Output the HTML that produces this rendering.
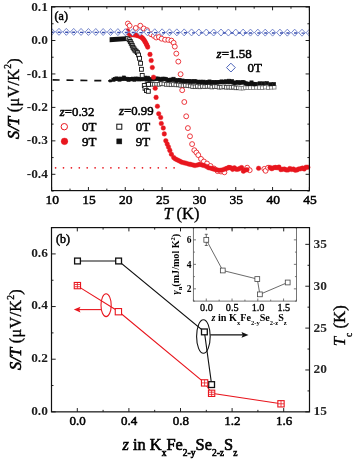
<!DOCTYPE html>
<html><head><meta charset="utf-8"><style>
html,body{margin:0;padding:0;background:#fff;width:355px;height:460px;overflow:hidden}
svg{display:block;font-family:"Liberation Serif",serif;will-change:transform;filter:blur(0.35px)}
</style></head><body>
<svg width="355" height="460" viewBox="0 0 355 460" font-family="Liberation Serif, serif"><path d="M51.6 190.6L51.6 187M51.6 6.7L51.6 10.3M70.01 190.6L70.01 188.6M70.01 6.7L70.01 8.7M88.43 190.6L88.43 187M88.43 6.7L88.43 10.3M106.84 190.6L106.84 188.6M106.84 6.7L106.84 8.7M125.26 190.6L125.26 187M125.26 6.7L125.26 10.3M143.67 190.6L143.67 188.6M143.67 6.7L143.67 8.7M162.09 190.6L162.09 187M162.09 6.7L162.09 10.3M180.5 190.6L180.5 188.6M180.5 6.7L180.5 8.7M198.91 190.6L198.91 187M198.91 6.7L198.91 10.3M217.33 190.6L217.33 188.6M217.33 6.7L217.33 8.7M235.74 190.6L235.74 187M235.74 6.7L235.74 10.3M254.16 190.6L254.16 188.6M254.16 6.7L254.16 8.7M272.57 190.6L272.57 187M272.57 6.7L272.57 10.3M290.99 190.6L290.99 188.6M290.99 6.7L290.99 8.7M309.4 190.6L309.4 187M309.4 6.7L309.4 10.3M51.6 7.05L55.4 7.05M309.4 7.05L305.6 7.05M51.6 23.78L53.6 23.78M309.4 23.78L307.4 23.78M51.6 40.5L55.4 40.5M309.4 40.5L305.6 40.5M51.6 57.23L53.6 57.23M309.4 57.23L307.4 57.23M51.6 73.95L55.4 73.95M309.4 73.95L305.6 73.95M51.6 90.67L53.6 90.67M309.4 90.67L307.4 90.67M51.6 107.4L55.4 107.4M309.4 107.4L305.6 107.4M51.6 124.12L53.6 124.12M309.4 124.12L307.4 124.12M51.6 140.85L55.4 140.85M309.4 140.85L305.6 140.85M51.6 157.57L53.6 157.57M309.4 157.57L307.4 157.57M51.6 174.3L55.4 174.3M309.4 174.3L305.6 174.3M51.6 191.03L53.6 191.03M309.4 191.03L307.4 191.03" stroke="#222" stroke-width="1" fill="none"/>
<text x="52.2" y="203.6" font-size="13.5" text-anchor="middle" font-weight="normal" font-style="normal" stroke="#000" stroke-width="0.5">10</text>
<text x="89.03" y="203.6" font-size="13.5" text-anchor="middle" font-weight="normal" font-style="normal" stroke="#000" stroke-width="0.5">15</text>
<text x="125.86" y="203.6" font-size="13.5" text-anchor="middle" font-weight="normal" font-style="normal" stroke="#000" stroke-width="0.5">20</text>
<text x="162.69" y="203.6" font-size="13.5" text-anchor="middle" font-weight="normal" font-style="normal" stroke="#000" stroke-width="0.5">25</text>
<text x="199.51" y="203.6" font-size="13.5" text-anchor="middle" font-weight="normal" font-style="normal" stroke="#000" stroke-width="0.5">30</text>
<text x="236.34" y="203.6" font-size="13.5" text-anchor="middle" font-weight="normal" font-style="normal" stroke="#000" stroke-width="0.5">35</text>
<text x="273.17" y="203.6" font-size="13.5" text-anchor="middle" font-weight="normal" font-style="normal" stroke="#000" stroke-width="0.5">40</text>
<text x="310" y="203.6" font-size="13.5" text-anchor="middle" font-weight="normal" font-style="normal" stroke="#000" stroke-width="0.5">45</text>
<text x="47.9" y="10.65" font-size="13.4" text-anchor="end" font-weight="bold" font-style="normal" fill="#1c1c1c">0.1</text>
<text x="47.9" y="44.1" font-size="13.4" text-anchor="end" font-weight="bold" font-style="normal" fill="#1c1c1c">0.0</text>
<text x="47.9" y="77.55" font-size="13.4" text-anchor="end" font-weight="bold" font-style="normal" fill="#1c1c1c">-0.1</text>
<text x="47.9" y="111" font-size="13.4" text-anchor="end" font-weight="bold" font-style="normal" fill="#1c1c1c">-0.2</text>
<text x="47.9" y="144.45" font-size="13.4" text-anchor="end" font-weight="bold" font-style="normal" fill="#1c1c1c">-0.3</text>
<text x="47.9" y="177.9" font-size="13.4" text-anchor="end" font-weight="bold" font-style="normal" fill="#1c1c1c">-0.4</text>
<circle cx="55.6" cy="167.8" r="0.85" fill="#e8161e"/>
<circle cx="63.5" cy="167.8" r="0.85" fill="#e8161e"/>
<circle cx="71.4" cy="167.8" r="0.85" fill="#e8161e"/>
<circle cx="79.3" cy="167.8" r="0.85" fill="#e8161e"/>
<circle cx="87.2" cy="167.8" r="0.85" fill="#e8161e"/>
<circle cx="95.1" cy="167.8" r="0.85" fill="#e8161e"/>
<circle cx="103" cy="167.8" r="0.85" fill="#e8161e"/>
<circle cx="110.9" cy="167.8" r="0.85" fill="#e8161e"/>
<circle cx="118.8" cy="167.8" r="0.85" fill="#e8161e"/>
<circle cx="126.7" cy="167.8" r="0.85" fill="#e8161e"/>
<circle cx="134.6" cy="167.8" r="0.85" fill="#e8161e"/>
<circle cx="142.5" cy="167.8" r="0.85" fill="#e8161e"/>
<circle cx="150.4" cy="167.8" r="0.85" fill="#e8161e"/>
<circle cx="158.3" cy="167.8" r="0.85" fill="#e8161e"/>
<circle cx="166.2" cy="167.8" r="0.85" fill="#e8161e"/>
<circle cx="174.1" cy="167.8" r="0.85" fill="#e8161e"/>
<line x1="52.6" y1="79.9" x2="112" y2="80.9" stroke="#111" stroke-width="1.7" stroke-dasharray="7 6.9"/>
<path d="M109.6 37.2L126.6 36.3L126.8 41L109.6 42.3Z" fill="#111"/>
<rect x="145.2" y="82.3" width="3.6" height="3.6" fill="#fff" stroke="#3a3a3a" stroke-width="0.8"/>
<rect x="147.6" y="82.39" width="3.6" height="3.6" fill="#fff" stroke="#3a3a3a" stroke-width="0.8"/>
<rect x="150" y="82.44" width="3.6" height="3.6" fill="#fff" stroke="#3a3a3a" stroke-width="0.8"/>
<rect x="152.4" y="82.55" width="3.6" height="3.6" fill="#fff" stroke="#3a3a3a" stroke-width="0.8"/>
<rect x="154.8" y="82.39" width="3.6" height="3.6" fill="#fff" stroke="#3a3a3a" stroke-width="0.8"/>
<rect x="157.2" y="82.54" width="3.6" height="3.6" fill="#fff" stroke="#3a3a3a" stroke-width="0.8"/>
<rect x="159.6" y="81.82" width="3.6" height="3.6" fill="#fff" stroke="#3a3a3a" stroke-width="0.8"/>
<rect x="162" y="82.17" width="3.6" height="3.6" fill="#fff" stroke="#3a3a3a" stroke-width="0.8"/>
<rect x="164.4" y="82.66" width="3.6" height="3.6" fill="#fff" stroke="#3a3a3a" stroke-width="0.8"/>
<rect x="166.8" y="82.63" width="3.6" height="3.6" fill="#fff" stroke="#3a3a3a" stroke-width="0.8"/>
<rect x="169.2" y="83.04" width="3.6" height="3.6" fill="#fff" stroke="#3a3a3a" stroke-width="0.8"/>
<rect x="171.6" y="82.62" width="3.6" height="3.6" fill="#fff" stroke="#3a3a3a" stroke-width="0.8"/>
<rect x="174" y="83.11" width="3.6" height="3.6" fill="#fff" stroke="#3a3a3a" stroke-width="0.8"/>
<rect x="176.4" y="83.14" width="3.6" height="3.6" fill="#fff" stroke="#3a3a3a" stroke-width="0.8"/>
<rect x="178.8" y="83.59" width="3.6" height="3.6" fill="#fff" stroke="#3a3a3a" stroke-width="0.8"/>
<rect x="181.2" y="83.82" width="3.6" height="3.6" fill="#fff" stroke="#3a3a3a" stroke-width="0.8"/>
<rect x="183.6" y="83.58" width="3.6" height="3.6" fill="#fff" stroke="#3a3a3a" stroke-width="0.8"/>
<rect x="186" y="83.95" width="3.6" height="3.6" fill="#fff" stroke="#3a3a3a" stroke-width="0.8"/>
<rect x="188.4" y="84.21" width="3.6" height="3.6" fill="#fff" stroke="#3a3a3a" stroke-width="0.8"/>
<rect x="190.8" y="84.93" width="3.6" height="3.6" fill="#fff" stroke="#3a3a3a" stroke-width="0.8"/>
<rect x="193.2" y="85.01" width="3.6" height="3.6" fill="#fff" stroke="#3a3a3a" stroke-width="0.8"/>
<rect x="195.6" y="84.55" width="3.6" height="3.6" fill="#fff" stroke="#3a3a3a" stroke-width="0.8"/>
<rect x="198" y="85.09" width="3.6" height="3.6" fill="#fff" stroke="#3a3a3a" stroke-width="0.8"/>
<rect x="200.4" y="84.58" width="3.6" height="3.6" fill="#fff" stroke="#3a3a3a" stroke-width="0.8"/>
<rect x="202.8" y="84.99" width="3.6" height="3.6" fill="#fff" stroke="#3a3a3a" stroke-width="0.8"/>
<rect x="205.2" y="84.62" width="3.6" height="3.6" fill="#fff" stroke="#3a3a3a" stroke-width="0.8"/>
<rect x="207.6" y="84.55" width="3.6" height="3.6" fill="#fff" stroke="#3a3a3a" stroke-width="0.8"/>
<rect x="210" y="85.27" width="3.6" height="3.6" fill="#fff" stroke="#3a3a3a" stroke-width="0.8"/>
<rect x="212.4" y="84.76" width="3.6" height="3.6" fill="#fff" stroke="#3a3a3a" stroke-width="0.8"/>
<rect x="214.8" y="84.79" width="3.6" height="3.6" fill="#fff" stroke="#3a3a3a" stroke-width="0.8"/>
<rect x="217.2" y="85.43" width="3.6" height="3.6" fill="#fff" stroke="#3a3a3a" stroke-width="0.8"/>
<rect x="219.6" y="85.36" width="3.6" height="3.6" fill="#fff" stroke="#3a3a3a" stroke-width="0.8"/>
<rect x="222" y="84.92" width="3.6" height="3.6" fill="#fff" stroke="#3a3a3a" stroke-width="0.8"/>
<rect x="224.4" y="85.54" width="3.6" height="3.6" fill="#fff" stroke="#3a3a3a" stroke-width="0.8"/>
<rect x="226.8" y="85.35" width="3.6" height="3.6" fill="#fff" stroke="#3a3a3a" stroke-width="0.8"/>
<rect x="229.2" y="85.6" width="3.6" height="3.6" fill="#fff" stroke="#3a3a3a" stroke-width="0.8"/>
<rect x="231.6" y="85.37" width="3.6" height="3.6" fill="#fff" stroke="#3a3a3a" stroke-width="0.8"/>
<rect x="234" y="86.1" width="3.6" height="3.6" fill="#fff" stroke="#3a3a3a" stroke-width="0.8"/>
<rect x="236.4" y="86.04" width="3.6" height="3.6" fill="#fff" stroke="#3a3a3a" stroke-width="0.8"/>
<rect x="238.8" y="86.38" width="3.6" height="3.6" fill="#fff" stroke="#777" stroke-width="0.8"/>
<rect x="241.2" y="86.36" width="3.6" height="3.6" fill="#fff" stroke="#777" stroke-width="0.8"/>
<rect x="243.6" y="85.92" width="3.6" height="3.6" fill="#fff" stroke="#777" stroke-width="0.8"/>
<rect x="246" y="86" width="3.6" height="3.6" fill="#fff" stroke="#777" stroke-width="0.8"/>
<rect x="248.4" y="85.87" width="3.6" height="3.6" fill="#fff" stroke="#777" stroke-width="0.8"/>
<rect x="251.4" y="85.79" width="3.6" height="3.6" fill="#fff" stroke="#777" stroke-width="0.8"/>
<rect x="254.4" y="85.65" width="3.6" height="3.6" fill="#fff" stroke="#777" stroke-width="0.8"/>
<rect x="257.4" y="85.78" width="3.6" height="3.6" fill="#fff" stroke="#777" stroke-width="0.8"/>
<rect x="260.4" y="85.95" width="3.6" height="3.6" fill="#fff" stroke="#777" stroke-width="0.8"/>
<rect x="263.4" y="85.4" width="3.6" height="3.6" fill="#fff" stroke="#777" stroke-width="0.8"/>
<rect x="266.4" y="85.87" width="3.6" height="3.6" fill="#fff" stroke="#777" stroke-width="0.8"/>
<rect x="269.4" y="85.53" width="3.6" height="3.6" fill="#fff" stroke="#777" stroke-width="0.8"/>
<rect x="272.4" y="85.44" width="3.6" height="3.6" fill="#fff" stroke="#777" stroke-width="0.8"/>
<rect x="109.4" y="79.8" width="2.2" height="2.2" fill="#111" stroke="#111" stroke-width="0.6"/>
<rect x="111.85" y="78.06" width="3.3" height="3.3" fill="#111" stroke="#111" stroke-width="0.6"/>
<rect x="113.35" y="77.36" width="3.3" height="3.3" fill="#111" stroke="#111" stroke-width="0.6"/>
<rect x="114.85" y="76.87" width="3.3" height="3.3" fill="#111" stroke="#111" stroke-width="0.6"/>
<rect x="116.35" y="77.22" width="3.3" height="3.3" fill="#111" stroke="#111" stroke-width="0.6"/>
<rect x="117.85" y="77.92" width="3.3" height="3.3" fill="#111" stroke="#111" stroke-width="0.6"/>
<rect x="119.35" y="76.97" width="3.3" height="3.3" fill="#111" stroke="#111" stroke-width="0.6"/>
<rect x="120.85" y="77.43" width="3.3" height="3.3" fill="#111" stroke="#111" stroke-width="0.6"/>
<rect x="122.35" y="75.96" width="3.3" height="3.3" fill="#111" stroke="#111" stroke-width="0.6"/>
<rect x="123.85" y="77.19" width="3.3" height="3.3" fill="#111" stroke="#111" stroke-width="0.6"/>
<rect x="125.35" y="77.21" width="3.3" height="3.3" fill="#111" stroke="#111" stroke-width="0.6"/>
<rect x="126.85" y="78.16" width="3.3" height="3.3" fill="#111" stroke="#111" stroke-width="0.6"/>
<rect x="128.35" y="77.4" width="3.3" height="3.3" fill="#111" stroke="#111" stroke-width="0.6"/>
<rect x="129.85" y="77.63" width="3.3" height="3.3" fill="#111" stroke="#111" stroke-width="0.6"/>
<rect x="131.35" y="77.09" width="3.3" height="3.3" fill="#111" stroke="#111" stroke-width="0.6"/>
<rect x="132.85" y="77.99" width="3.3" height="3.3" fill="#111" stroke="#111" stroke-width="0.6"/>
<rect x="134.35" y="77" width="3.3" height="3.3" fill="#111" stroke="#111" stroke-width="0.6"/>
<rect x="135.85" y="77.07" width="3.3" height="3.3" fill="#111" stroke="#111" stroke-width="0.6"/>
<rect x="137.35" y="77.74" width="3.3" height="3.3" fill="#111" stroke="#111" stroke-width="0.6"/>
<rect x="138.85" y="77.39" width="3.3" height="3.3" fill="#111" stroke="#111" stroke-width="0.6"/>
<rect x="140.35" y="77.66" width="3.3" height="3.3" fill="#111" stroke="#111" stroke-width="0.6"/>
<rect x="141.85" y="77.36" width="3.3" height="3.3" fill="#111" stroke="#111" stroke-width="0.6"/>
<rect x="143.35" y="76.05" width="3.3" height="3.3" fill="#111" stroke="#111" stroke-width="0.6"/>
<rect x="144.85" y="77.85" width="3.3" height="3.3" fill="#111" stroke="#111" stroke-width="0.6"/>
<rect x="146.35" y="76.16" width="3.3" height="3.3" fill="#111" stroke="#111" stroke-width="0.6"/>
<rect x="147.85" y="78.23" width="3.3" height="3.3" fill="#111" stroke="#111" stroke-width="0.6"/>
<rect x="149.35" y="77.48" width="3.3" height="3.3" fill="#111" stroke="#111" stroke-width="0.6"/>
<rect x="150.85" y="77.72" width="3.3" height="3.3" fill="#111" stroke="#111" stroke-width="0.6"/>
<rect x="152.35" y="77.54" width="3.3" height="3.3" fill="#111" stroke="#111" stroke-width="0.6"/>
<rect x="153.85" y="77.02" width="3.3" height="3.3" fill="#111" stroke="#111" stroke-width="0.6"/>
<rect x="155.35" y="76.99" width="3.3" height="3.3" fill="#111" stroke="#111" stroke-width="0.6"/>
<rect x="156.85" y="77.04" width="3.3" height="3.3" fill="#111" stroke="#111" stroke-width="0.6"/>
<rect x="158.35" y="77.9" width="3.3" height="3.3" fill="#111" stroke="#111" stroke-width="0.6"/>
<rect x="159.85" y="77.77" width="3.3" height="3.3" fill="#111" stroke="#111" stroke-width="0.6"/>
<rect x="161.35" y="77.09" width="3.3" height="3.3" fill="#111" stroke="#111" stroke-width="0.6"/>
<rect x="162.85" y="77.14" width="3.3" height="3.3" fill="#111" stroke="#111" stroke-width="0.6"/>
<rect x="164.35" y="77.42" width="3.3" height="3.3" fill="#111" stroke="#111" stroke-width="0.6"/>
<rect x="165.85" y="78.47" width="3.3" height="3.3" fill="#111" stroke="#111" stroke-width="0.6"/>
<rect x="167.35" y="78.57" width="3.3" height="3.3" fill="#111" stroke="#111" stroke-width="0.6"/>
<rect x="168.85" y="78.06" width="3.3" height="3.3" fill="#111" stroke="#111" stroke-width="0.6"/>
<rect x="170.35" y="78.18" width="3.3" height="3.3" fill="#111" stroke="#111" stroke-width="0.6"/>
<rect x="171.85" y="77.21" width="3.3" height="3.3" fill="#111" stroke="#111" stroke-width="0.6"/>
<rect x="173.35" y="78.31" width="3.3" height="3.3" fill="#111" stroke="#111" stroke-width="0.6"/>
<rect x="174.85" y="79.19" width="3.3" height="3.3" fill="#111" stroke="#111" stroke-width="0.6"/>
<rect x="176.35" y="78.73" width="3.3" height="3.3" fill="#111" stroke="#111" stroke-width="0.6"/>
<rect x="177.85" y="78.32" width="3.3" height="3.3" fill="#111" stroke="#111" stroke-width="0.6"/>
<rect x="179.35" y="79.35" width="3.3" height="3.3" fill="#111" stroke="#111" stroke-width="0.6"/>
<rect x="180.85" y="78.94" width="3.3" height="3.3" fill="#111" stroke="#111" stroke-width="0.6"/>
<rect x="182.35" y="79.6" width="3.3" height="3.3" fill="#111" stroke="#111" stroke-width="0.6"/>
<rect x="183.85" y="79.59" width="3.3" height="3.3" fill="#111" stroke="#111" stroke-width="0.6"/>
<rect x="185.35" y="79.33" width="3.3" height="3.3" fill="#111" stroke="#111" stroke-width="0.6"/>
<rect x="186.85" y="79.35" width="3.3" height="3.3" fill="#111" stroke="#111" stroke-width="0.6"/>
<rect x="188.35" y="80.12" width="3.3" height="3.3" fill="#111" stroke="#111" stroke-width="0.6"/>
<rect x="189.85" y="79.63" width="3.3" height="3.3" fill="#111" stroke="#111" stroke-width="0.6"/>
<rect x="191.35" y="80.22" width="3.3" height="3.3" fill="#111" stroke="#111" stroke-width="0.6"/>
<rect x="192.85" y="79.52" width="3.3" height="3.3" fill="#111" stroke="#111" stroke-width="0.6"/>
<rect x="194.35" y="79.89" width="3.3" height="3.3" fill="#111" stroke="#111" stroke-width="0.6"/>
<rect x="195.85" y="80.18" width="3.3" height="3.3" fill="#111" stroke="#111" stroke-width="0.6"/>
<rect x="197.35" y="80.43" width="3.3" height="3.3" fill="#111" stroke="#111" stroke-width="0.6"/>
<rect x="198.85" y="80.06" width="3.3" height="3.3" fill="#111" stroke="#111" stroke-width="0.6"/>
<rect x="200.35" y="80.58" width="3.3" height="3.3" fill="#111" stroke="#111" stroke-width="0.6"/>
<rect x="201.85" y="80.09" width="3.3" height="3.3" fill="#111" stroke="#111" stroke-width="0.6"/>
<rect x="203.35" y="80.78" width="3.3" height="3.3" fill="#111" stroke="#111" stroke-width="0.6"/>
<rect x="204.85" y="80.93" width="3.3" height="3.3" fill="#111" stroke="#111" stroke-width="0.6"/>
<rect x="206.35" y="80.35" width="3.3" height="3.3" fill="#111" stroke="#111" stroke-width="0.6"/>
<rect x="207.85" y="79.91" width="3.3" height="3.3" fill="#111" stroke="#111" stroke-width="0.6"/>
<rect x="209.35" y="80.93" width="3.3" height="3.3" fill="#111" stroke="#111" stroke-width="0.6"/>
<rect x="210.85" y="80.62" width="3.3" height="3.3" fill="#111" stroke="#111" stroke-width="0.6"/>
<rect x="212.35" y="80.69" width="3.3" height="3.3" fill="#111" stroke="#111" stroke-width="0.6"/>
<rect x="213.85" y="80.77" width="3.3" height="3.3" fill="#111" stroke="#111" stroke-width="0.6"/>
<rect x="215.35" y="80.64" width="3.3" height="3.3" fill="#111" stroke="#111" stroke-width="0.6"/>
<rect x="216.85" y="80.6" width="3.3" height="3.3" fill="#111" stroke="#111" stroke-width="0.6"/>
<rect x="218.35" y="80.63" width="3.3" height="3.3" fill="#111" stroke="#111" stroke-width="0.6"/>
<rect x="219.85" y="79.85" width="3.3" height="3.3" fill="#111" stroke="#111" stroke-width="0.6"/>
<rect x="221.35" y="80.4" width="3.3" height="3.3" fill="#111" stroke="#111" stroke-width="0.6"/>
<rect x="222.85" y="80.13" width="3.3" height="3.3" fill="#111" stroke="#111" stroke-width="0.6"/>
<rect x="224.35" y="79.73" width="3.3" height="3.3" fill="#111" stroke="#111" stroke-width="0.6"/>
<rect x="225.85" y="80.61" width="3.3" height="3.3" fill="#111" stroke="#111" stroke-width="0.6"/>
<rect x="227.35" y="79.16" width="3.3" height="3.3" fill="#111" stroke="#111" stroke-width="0.6"/>
<rect x="228.85" y="80.59" width="3.3" height="3.3" fill="#111" stroke="#111" stroke-width="0.6"/>
<rect x="230.35" y="79.52" width="3.3" height="3.3" fill="#111" stroke="#111" stroke-width="0.6"/>
<rect x="231.85" y="80.96" width="3.3" height="3.3" fill="#111" stroke="#111" stroke-width="0.6"/>
<rect x="233.35" y="81.25" width="3.3" height="3.3" fill="#111" stroke="#111" stroke-width="0.6"/>
<rect x="234.85" y="80.85" width="3.3" height="3.3" fill="#111" stroke="#111" stroke-width="0.6"/>
<rect x="236.35" y="80.63" width="3.3" height="3.3" fill="#111" stroke="#111" stroke-width="0.6"/>
<rect x="237.85" y="81.08" width="3.3" height="3.3" fill="#111" stroke="#111" stroke-width="0.6"/>
<rect x="239.35" y="80.96" width="3.3" height="3.3" fill="#111" stroke="#111" stroke-width="0.6"/>
<rect x="240.85" y="80.39" width="3.3" height="3.3" fill="#111" stroke="#111" stroke-width="0.6"/>
<rect x="242.35" y="80.79" width="3.3" height="3.3" fill="#111" stroke="#111" stroke-width="0.6"/>
<rect x="243.85" y="81.79" width="3.3" height="3.3" fill="#111" stroke="#111" stroke-width="0.6"/>
<rect x="245.35" y="81.93" width="3.3" height="3.3" fill="#111" stroke="#111" stroke-width="0.6"/>
<rect x="246.85" y="82.32" width="3.3" height="3.3" fill="#111" stroke="#111" stroke-width="0.6"/>
<rect x="248.35" y="82.41" width="3.3" height="3.3" fill="#111" stroke="#111" stroke-width="0.6"/>
<rect x="249.85" y="80.86" width="3.3" height="3.3" fill="#111" stroke="#111" stroke-width="0.6"/>
<rect x="251.35" y="82.19" width="3.3" height="3.3" fill="#111" stroke="#111" stroke-width="0.6"/>
<rect x="252.85" y="82.7" width="3.3" height="3.3" fill="#111" stroke="#111" stroke-width="0.6"/>
<rect x="254.35" y="82.28" width="3.3" height="3.3" fill="#111" stroke="#111" stroke-width="0.6"/>
<rect x="257.95" y="81.73" width="3.3" height="3.3" fill="#111" stroke="#111" stroke-width="0.6"/>
<rect x="261.55" y="81.79" width="3.3" height="3.3" fill="#111" stroke="#111" stroke-width="0.6"/>
<rect x="265.15" y="81.54" width="3.3" height="3.3" fill="#111" stroke="#111" stroke-width="0.6"/>
<rect x="268.75" y="82.64" width="3.3" height="3.3" fill="#111" stroke="#111" stroke-width="0.6"/>
<rect x="272.35" y="82.39" width="3.3" height="3.3" fill="#111" stroke="#111" stroke-width="0.6"/>
<rect x="125.85" y="36.35" width="3.9" height="3.9" fill="#fff" stroke="#111" stroke-width="0.9"/>
<rect x="127.25" y="37.85" width="3.9" height="3.9" fill="#fff" stroke="#111" stroke-width="0.9"/>
<rect x="128.35" y="39.55" width="3.9" height="3.9" fill="#9a9a9a" stroke="#111" stroke-width="0.9"/>
<rect x="129.25" y="41.35" width="3.9" height="3.9" fill="#9a9a9a" stroke="#111" stroke-width="0.9"/>
<rect x="130.25" y="43.35" width="3.9" height="3.9" fill="#9a9a9a" stroke="#111" stroke-width="0.9"/>
<rect x="131.05" y="45.35" width="3.9" height="3.9" fill="#9a9a9a" stroke="#111" stroke-width="0.9"/>
<rect x="132.05" y="46.85" width="3.9" height="3.9" fill="#9a9a9a" stroke="#111" stroke-width="0.9"/>
<rect x="132.95" y="48.25" width="3.9" height="3.9" fill="#9a9a9a" stroke="#111" stroke-width="0.9"/>
<rect x="134.15" y="49.25" width="3.9" height="3.9" fill="#9a9a9a" stroke="#111" stroke-width="0.9"/>
<rect x="135.45" y="50.65" width="3.9" height="3.9" fill="#9a9a9a" stroke="#111" stroke-width="0.9"/>
<rect x="136.65" y="53.05" width="3.9" height="3.9" fill="#fff" stroke="#111" stroke-width="0.9"/>
<rect x="137.55" y="56.35" width="3.9" height="3.9" fill="#fff" stroke="#111" stroke-width="0.9"/>
<rect x="138.65" y="61.35" width="3.9" height="3.9" fill="#fff" stroke="#111" stroke-width="0.9"/>
<rect x="139.45" y="67.35" width="3.9" height="3.9" fill="#fff" stroke="#111" stroke-width="0.9"/>
<rect x="140.25" y="73.45" width="3.9" height="3.9" fill="#fff" stroke="#111" stroke-width="0.9"/>
<rect x="146.55" y="82.45" width="3.9" height="3.9" fill="#fff" stroke="#111" stroke-width="0.9"/>
<rect x="142.35" y="83.55" width="3.9" height="3.9" fill="#fff" stroke="#111" stroke-width="0.9"/>
<rect x="143.05" y="86.35" width="3.9" height="3.9" fill="#fff" stroke="#111" stroke-width="0.9"/>
<rect x="144.55" y="88.65" width="3.9" height="3.9" fill="#fff" stroke="#111" stroke-width="0.9"/>
<rect x="146.35" y="89.35" width="3.9" height="3.9" fill="#fff" stroke="#111" stroke-width="0.9"/>
<circle cx="127.9" cy="23.5" r="2.45" fill="#fff" stroke="#e8161e" stroke-width="0.85"/>
<circle cx="129.6" cy="25.7" r="2.45" fill="#fff" stroke="#e8161e" stroke-width="0.85"/>
<circle cx="135.8" cy="28" r="2.45" fill="#fff" stroke="#e8161e" stroke-width="0.85"/>
<circle cx="140.3" cy="25.7" r="2.45" fill="#fff" stroke="#e8161e" stroke-width="0.85"/>
<circle cx="143.7" cy="28.5" r="2.45" fill="#fff" stroke="#e8161e" stroke-width="0.85"/>
<circle cx="147" cy="30.2" r="2.45" fill="#fff" stroke="#e8161e" stroke-width="0.85"/>
<circle cx="151" cy="34.2" r="2.45" fill="#fff" stroke="#e8161e" stroke-width="0.85"/>
<circle cx="153.8" cy="35.8" r="2.45" fill="#fff" stroke="#e8161e" stroke-width="0.85"/>
<circle cx="156.2" cy="37.5" r="2.45" fill="#fff" stroke="#e8161e" stroke-width="0.85"/>
<circle cx="158.9" cy="37" r="2.45" fill="#fff" stroke="#e8161e" stroke-width="0.85"/>
<circle cx="161.6" cy="38.7" r="2.45" fill="#fff" stroke="#e8161e" stroke-width="0.85"/>
<circle cx="165.1" cy="39.7" r="2.45" fill="#fff" stroke="#e8161e" stroke-width="0.85"/>
<circle cx="168.3" cy="39.9" r="2.45" fill="#fff" stroke="#e8161e" stroke-width="0.85"/>
<circle cx="171.4" cy="40.6" r="2.45" fill="#fff" stroke="#e8161e" stroke-width="0.85"/>
<circle cx="173.6" cy="42.8" r="2.45" fill="#fff" stroke="#e8161e" stroke-width="0.85"/>
<circle cx="174.8" cy="46.6" r="2.45" fill="#fff" stroke="#e8161e" stroke-width="0.85"/>
<circle cx="176.3" cy="53.6" r="2.45" fill="#fff" stroke="#e8161e" stroke-width="0.85"/>
<circle cx="178.3" cy="61.6" r="2.45" fill="#fff" stroke="#e8161e" stroke-width="0.85"/>
<circle cx="180.6" cy="74.2" r="2.45" fill="#fff" stroke="#e8161e" stroke-width="0.85"/>
<circle cx="182.2" cy="90.2" r="2.45" fill="#fff" stroke="#e8161e" stroke-width="0.85"/>
<circle cx="184.3" cy="102" r="2.45" fill="#fff" stroke="#e8161e" stroke-width="0.85"/>
<circle cx="186.2" cy="116.3" r="2.45" fill="#fff" stroke="#e8161e" stroke-width="0.85"/>
<circle cx="187.9" cy="128.1" r="2.45" fill="#fff" stroke="#e8161e" stroke-width="0.85"/>
<circle cx="190" cy="136.3" r="2.45" fill="#fff" stroke="#e8161e" stroke-width="0.85"/>
<circle cx="192.1" cy="144.1" r="2.45" fill="#fff" stroke="#e8161e" stroke-width="0.85"/>
<circle cx="194.3" cy="150.2" r="2.45" fill="#fff" stroke="#e8161e" stroke-width="0.85"/>
<circle cx="196.4" cy="152.5" r="2.45" fill="#fff" stroke="#e8161e" stroke-width="0.85"/>
<circle cx="198.3" cy="155.1" r="2.45" fill="#fff" stroke="#e8161e" stroke-width="0.85"/>
<circle cx="201" cy="158.9" r="2.45" fill="#fff" stroke="#e8161e" stroke-width="0.85"/>
<circle cx="203.9" cy="161.5" r="2.45" fill="#fff" stroke="#e8161e" stroke-width="0.85"/>
<circle cx="207" cy="163.5" r="2.45" fill="#fff" stroke="#e8161e" stroke-width="0.85"/>
<circle cx="210.5" cy="166" r="2.45" fill="#fff" stroke="#e8161e" stroke-width="0.85"/>
<circle cx="214" cy="168.5" r="2.45" fill="#fff" stroke="#e8161e" stroke-width="0.85"/>
<circle cx="217.6" cy="171.1" r="2.45" fill="#fff" stroke="#e8161e" stroke-width="0.85"/>
<circle cx="221" cy="171.5" r="2.45" fill="#fff" stroke="#e8161e" stroke-width="0.85"/>
<circle cx="224.4" cy="172.3" r="2.45" fill="#fff" stroke="#e8161e" stroke-width="0.85"/>
<circle cx="247.2" cy="167.7" r="2.45" fill="#fff" stroke="#e8161e" stroke-width="0.85"/>
<circle cx="249.7" cy="170.2" r="2.45" fill="#fff" stroke="#e8161e" stroke-width="0.85"/>
<circle cx="264.3" cy="168.9" r="2.45" fill="#fff" stroke="#e8161e" stroke-width="0.85"/>
<circle cx="265.6" cy="170.8" r="2.45" fill="#fff" stroke="#e8161e" stroke-width="0.85"/>
<circle cx="268.1" cy="167.7" r="2.45" fill="#fff" stroke="#e8161e" stroke-width="0.85"/>
<circle cx="127.5" cy="30.8" r="2.3" fill="#e8161e" stroke="#e8161e" stroke-width="0.4"/>
<circle cx="128.3" cy="32.5" r="2.3" fill="#e8161e" stroke="#e8161e" stroke-width="0.4"/>
<circle cx="129.4" cy="33.8" r="2.3" fill="#e8161e" stroke="#e8161e" stroke-width="0.4"/>
<circle cx="130.6" cy="34.4" r="2.3" fill="#e8161e" stroke="#e8161e" stroke-width="0.4"/>
<circle cx="132" cy="34.6" r="2.3" fill="#e8161e" stroke="#e8161e" stroke-width="0.4"/>
<circle cx="133.5" cy="34.8" r="2.3" fill="#e8161e" stroke="#e8161e" stroke-width="0.4"/>
<circle cx="135" cy="35" r="2.3" fill="#e8161e" stroke="#e8161e" stroke-width="0.4"/>
<circle cx="136.5" cy="35.3" r="2.3" fill="#e8161e" stroke="#e8161e" stroke-width="0.4"/>
<circle cx="138" cy="35.7" r="2.3" fill="#e8161e" stroke="#e8161e" stroke-width="0.4"/>
<circle cx="139.5" cy="36.2" r="2.3" fill="#e8161e" stroke="#e8161e" stroke-width="0.4"/>
<circle cx="140.9" cy="36.9" r="2.3" fill="#e8161e" stroke="#e8161e" stroke-width="0.4"/>
<circle cx="142.2" cy="37.8" r="2.3" fill="#e8161e" stroke="#e8161e" stroke-width="0.4"/>
<circle cx="143.3" cy="39" r="2.3" fill="#e8161e" stroke="#e8161e" stroke-width="0.4"/>
<circle cx="144.3" cy="40.4" r="2.3" fill="#e8161e" stroke="#e8161e" stroke-width="0.4"/>
<circle cx="145.2" cy="41.9" r="2.3" fill="#e8161e" stroke="#e8161e" stroke-width="0.4"/>
<circle cx="146.1" cy="43.5" r="2.3" fill="#e8161e" stroke="#e8161e" stroke-width="0.4"/>
<circle cx="146.9" cy="45.3" r="2.3" fill="#e8161e" stroke="#e8161e" stroke-width="0.4"/>
<circle cx="147.7" cy="47.1" r="2.3" fill="#e8161e" stroke="#e8161e" stroke-width="0.4"/>
<circle cx="150" cy="54.4" r="2.3" fill="#e8161e" stroke="#e8161e" stroke-width="0.4"/>
<circle cx="151.2" cy="60.5" r="2.3" fill="#e8161e" stroke="#e8161e" stroke-width="0.4"/>
<circle cx="152.3" cy="67.5" r="2.3" fill="#e8161e" stroke="#e8161e" stroke-width="0.4"/>
<circle cx="153.5" cy="77.2" r="2.3" fill="#e8161e" stroke="#e8161e" stroke-width="0.4"/>
<circle cx="155.2" cy="88.3" r="2.3" fill="#e8161e" stroke="#e8161e" stroke-width="0.4"/>
<circle cx="156.1" cy="97.4" r="2.3" fill="#e8161e" stroke="#e8161e" stroke-width="0.4"/>
<circle cx="157.4" cy="106.3" r="2.3" fill="#e8161e" stroke="#e8161e" stroke-width="0.4"/>
<circle cx="158.7" cy="113.7" r="2.3" fill="#e8161e" stroke="#e8161e" stroke-width="0.4"/>
<circle cx="160.7" cy="117.5" r="2.3" fill="#e8161e" stroke="#e8161e" stroke-width="0.4"/>
<circle cx="161.3" cy="123.5" r="2.3" fill="#e8161e" stroke="#e8161e" stroke-width="0.4"/>
<circle cx="163.3" cy="128" r="2.3" fill="#e8161e" stroke="#e8161e" stroke-width="0.4"/>
<circle cx="164.3" cy="133.9" r="2.3" fill="#e8161e" stroke="#e8161e" stroke-width="0.4"/>
<circle cx="165.8" cy="140.7" r="2.3" fill="#e8161e" stroke="#e8161e" stroke-width="0.4"/>
<circle cx="167.2" cy="144" r="2.3" fill="#e8161e" stroke="#e8161e" stroke-width="0.4"/>
<circle cx="168.5" cy="147" r="2.3" fill="#e8161e" stroke="#e8161e" stroke-width="0.4"/>
<circle cx="169.8" cy="150.4" r="2.3" fill="#e8161e" stroke="#e8161e" stroke-width="0.4"/>
<circle cx="171.4" cy="154.2" r="2.3" fill="#e8161e" stroke="#e8161e" stroke-width="0.4"/>
<circle cx="173.7" cy="157.6" r="2.3" fill="#e8161e" stroke="#e8161e" stroke-width="0.4"/>
<circle cx="175.5" cy="159" r="2.3" fill="#e8161e" stroke="#e8161e" stroke-width="0.4"/>
<circle cx="177.5" cy="160" r="2.3" fill="#e8161e" stroke="#e8161e" stroke-width="0.4"/>
<circle cx="179.5" cy="161" r="2.3" fill="#e8161e" stroke="#e8161e" stroke-width="0.4"/>
<circle cx="181.5" cy="162.1" r="2.3" fill="#e8161e" stroke="#e8161e" stroke-width="0.4"/>
<circle cx="184" cy="162.8" r="2.3" fill="#e8161e" stroke="#e8161e" stroke-width="0.4"/>
<circle cx="186" cy="163.2" r="2.3" fill="#e8161e" stroke="#e8161e" stroke-width="0.4"/>
<circle cx="188.5" cy="164" r="2.3" fill="#e8161e" stroke="#e8161e" stroke-width="0.4"/>
<circle cx="190.6" cy="164.4" r="2.3" fill="#e8161e" stroke="#e8161e" stroke-width="0.4"/>
<circle cx="193" cy="165" r="2.3" fill="#e8161e" stroke="#e8161e" stroke-width="0.4"/>
<circle cx="195" cy="165.5" r="2.3" fill="#e8161e" stroke="#e8161e" stroke-width="0.4"/>
<circle cx="197.5" cy="165" r="2.3" fill="#e8161e" stroke="#e8161e" stroke-width="0.4"/>
<circle cx="199.6" cy="164.4" r="2.3" fill="#e8161e" stroke="#e8161e" stroke-width="0.4"/>
<circle cx="202" cy="165" r="2.3" fill="#e8161e" stroke="#e8161e" stroke-width="0.4"/>
<circle cx="204" cy="165.5" r="2.3" fill="#e8161e" stroke="#e8161e" stroke-width="0.4"/>
<circle cx="206.5" cy="166.5" r="2.3" fill="#e8161e" stroke="#e8161e" stroke-width="0.4"/>
<circle cx="208.6" cy="167.7" r="2.3" fill="#e8161e" stroke="#e8161e" stroke-width="0.4"/>
<circle cx="211" cy="168.3" r="2.3" fill="#e8161e" stroke="#e8161e" stroke-width="0.4"/>
<circle cx="213.1" cy="168.9" r="2.3" fill="#e8161e" stroke="#e8161e" stroke-width="0.4"/>
<circle cx="215.5" cy="169.5" r="2.3" fill="#e8161e" stroke="#e8161e" stroke-width="0.4"/>
<circle cx="217.6" cy="170" r="2.3" fill="#e8161e" stroke="#e8161e" stroke-width="0.4"/>
<circle cx="220" cy="170.3" r="2.3" fill="#e8161e" stroke="#e8161e" stroke-width="0.4"/>
<circle cx="222.1" cy="170" r="2.3" fill="#e8161e" stroke="#e8161e" stroke-width="0.4"/>
<circle cx="224.5" cy="169.2" r="2.3" fill="#e8161e" stroke="#e8161e" stroke-width="0.4"/>
<circle cx="226.6" cy="168.4" r="2.3" fill="#e8161e" stroke="#e8161e" stroke-width="0.4"/>
<circle cx="228.9" cy="167.6" r="2.3" fill="#e8161e" stroke="#e8161e" stroke-width="0.4"/>
<circle cx="229" cy="167.54" r="2.3" fill="#e8161e" stroke="#e8161e" stroke-width="0.4"/>
<circle cx="230.8" cy="167.7" r="2.3" fill="#e8161e" stroke="#e8161e" stroke-width="0.4"/>
<circle cx="232.6" cy="169.33" r="2.3" fill="#e8161e" stroke="#e8161e" stroke-width="0.4"/>
<circle cx="234.4" cy="167.91" r="2.3" fill="#e8161e" stroke="#e8161e" stroke-width="0.4"/>
<circle cx="236.2" cy="169.31" r="2.3" fill="#e8161e" stroke="#e8161e" stroke-width="0.4"/>
<circle cx="238" cy="169.19" r="2.3" fill="#e8161e" stroke="#e8161e" stroke-width="0.4"/>
<circle cx="239.8" cy="168.43" r="2.3" fill="#e8161e" stroke="#e8161e" stroke-width="0.4"/>
<circle cx="241.6" cy="167.62" r="2.3" fill="#e8161e" stroke="#e8161e" stroke-width="0.4"/>
<circle cx="243.4" cy="171.15" r="2.3" fill="#e8161e" stroke="#e8161e" stroke-width="0.4"/>
<circle cx="245.2" cy="169.99" r="2.3" fill="#e8161e" stroke="#e8161e" stroke-width="0.4"/>
<circle cx="247" cy="169.8" r="2.3" fill="#e8161e" stroke="#e8161e" stroke-width="0.4"/>
<circle cx="258.6" cy="168.3" r="2.3" fill="#e8161e" stroke="#e8161e" stroke-width="0.4"/>
<circle cx="270" cy="167.47" r="2.3" fill="#e8161e" stroke="#e8161e" stroke-width="0.4"/>
<circle cx="271.8" cy="168.67" r="2.3" fill="#e8161e" stroke="#e8161e" stroke-width="0.4"/>
<circle cx="273.6" cy="167.79" r="2.3" fill="#e8161e" stroke="#e8161e" stroke-width="0.4"/>
<circle cx="275.4" cy="167.42" r="2.3" fill="#e8161e" stroke="#e8161e" stroke-width="0.4"/>
<circle cx="277.2" cy="167.76" r="2.3" fill="#e8161e" stroke="#e8161e" stroke-width="0.4"/>
<circle cx="279" cy="167.12" r="2.3" fill="#e8161e" stroke="#e8161e" stroke-width="0.4"/>
<circle cx="280.8" cy="169.62" r="2.3" fill="#e8161e" stroke="#e8161e" stroke-width="0.4"/>
<circle cx="282.6" cy="169.3" r="2.3" fill="#e8161e" stroke="#e8161e" stroke-width="0.4"/>
<circle cx="284.4" cy="169.03" r="2.3" fill="#e8161e" stroke="#e8161e" stroke-width="0.4"/>
<circle cx="286.2" cy="169.91" r="2.3" fill="#e8161e" stroke="#e8161e" stroke-width="0.4"/>
<circle cx="288" cy="169.99" r="2.3" fill="#e8161e" stroke="#e8161e" stroke-width="0.4"/>
<circle cx="289.8" cy="168.52" r="2.3" fill="#e8161e" stroke="#e8161e" stroke-width="0.4"/>
<circle cx="291.6" cy="169.46" r="2.3" fill="#e8161e" stroke="#e8161e" stroke-width="0.4"/>
<circle cx="293.4" cy="168.99" r="2.3" fill="#e8161e" stroke="#e8161e" stroke-width="0.4"/>
<circle cx="295.2" cy="170.18" r="2.3" fill="#e8161e" stroke="#e8161e" stroke-width="0.4"/>
<circle cx="297" cy="169.91" r="2.3" fill="#e8161e" stroke="#e8161e" stroke-width="0.4"/>
<circle cx="298.8" cy="168.94" r="2.3" fill="#e8161e" stroke="#e8161e" stroke-width="0.4"/>
<circle cx="300.6" cy="168.8" r="2.3" fill="#e8161e" stroke="#e8161e" stroke-width="0.4"/>
<circle cx="302.4" cy="168.06" r="2.3" fill="#e8161e" stroke="#e8161e" stroke-width="0.4"/>
<circle cx="304.2" cy="169.02" r="2.3" fill="#e8161e" stroke="#e8161e" stroke-width="0.4"/>
<circle cx="306" cy="167.23" r="2.3" fill="#e8161e" stroke="#e8161e" stroke-width="0.4"/>
<circle cx="307.8" cy="167.25" r="2.3" fill="#e8161e" stroke="#e8161e" stroke-width="0.4"/>
<line x1="51.6" y1="31.8" x2="309.4" y2="32.7" stroke="#9aa8dc" stroke-width="0.6"/>
<clipPath id="ca"><rect x="51.6" y="6.7" width="257.8" height="183.9"/></clipPath>
<path d="M51.6 28.3L54.8 31.8L51.6 35.3L48.4 31.8ZM58.97 28.33L62.17 31.83L58.97 35.33L55.77 31.83ZM66.33 28.37L69.53 31.87L66.33 35.37L63.13 31.87ZM73.7 28.4L76.9 31.9L73.7 35.4L70.5 31.9ZM81.06 28.43L84.26 31.93L81.06 35.43L77.86 31.93ZM88.43 28.47L91.63 31.97L88.43 35.47L85.23 31.97ZM95.79 28.5L98.99 32L95.79 35.5L92.59 32ZM103.16 28.53L106.36 32.03L103.16 35.53L99.96 32.03ZM110.53 28.57L113.73 32.07L110.53 35.57L107.33 32.07ZM117.89 28.6L121.09 32.1L117.89 35.6L114.69 32.1ZM125.26 28.63L128.46 32.13L125.26 35.63L122.06 32.13ZM132.62 28.67L135.82 32.17L132.62 35.67L129.42 32.17ZM139.99 28.7L143.19 32.2L139.99 35.7L136.79 32.2ZM147.35 28.73L150.55 32.23L147.35 35.73L144.15 32.23ZM154.72 28.77L157.92 32.27L154.72 35.77L151.52 32.27ZM162.09 28.8L165.29 32.3L162.09 35.8L158.89 32.3ZM169.45 28.83L172.65 32.33L169.45 35.83L166.25 32.33ZM176.82 28.87L180.02 32.37L176.82 35.87L173.62 32.37ZM184.18 28.9L187.38 32.4L184.18 35.9L180.98 32.4ZM191.55 28.93L194.75 32.43L191.55 35.93L188.35 32.43ZM198.91 28.97L202.11 32.47L198.91 35.97L195.71 32.47ZM206.28 29L209.48 32.5L206.28 36L203.08 32.5ZM213.65 29.01L216.85 32.51L213.65 36.01L210.45 32.51ZM221.01 29.03L224.21 32.53L221.01 36.03L217.81 32.53ZM228.38 29.04L231.58 32.54L228.38 36.04L225.18 32.54ZM235.74 29.06L238.94 32.56L235.74 36.06L232.54 32.56ZM243.11 29.07L246.31 32.57L243.11 36.07L239.91 32.57ZM250.47 29.09L253.67 32.59L250.47 36.09L247.27 32.59ZM257.84 29.1L261.04 32.6L257.84 36.1L254.64 32.6ZM265.21 29.11L268.41 32.61L265.21 36.11L262.01 32.61ZM272.57 29.13L275.77 32.63L272.57 36.13L269.37 32.63ZM279.94 29.14L283.14 32.64L279.94 36.14L276.74 32.64ZM287.3 29.16L290.5 32.66L287.3 36.16L284.1 32.66ZM294.67 29.17L297.87 32.67L294.67 36.17L291.47 32.67ZM302.03 29.19L305.23 32.69L302.03 36.19L298.83 32.69ZM309.4 29.2L312.6 32.7L309.4 36.2L306.2 32.7Z" fill="#fff" stroke="#6074c4" stroke-width="0.85" clip-path="url(#ca)"/>
<path d="M51.6 32.2L53.6 32.2M57.67 32.23L60.67 32.23M65.13 32.27L68.13 32.27M72.2 32.3L75.2 32.3M79.96 32.34L82.96 32.34M87.03 32.37L90.03 32.37M94.59 32.4L97.59 32.4M101.86 32.43L104.86 32.43M109.53 32.47L112.53 32.47M117.19 32.5L120.19 32.5M124.76 32.54L127.76 32.54M131.72 32.57L134.72 32.57M139.39 32.6L142.39 32.6M147.05 32.64L150.05 32.64M154.02 32.67L157.02 32.67M162.09 32.71L165.09 32.71M168.65 32.74L171.65 32.74M176.32 32.77L179.32 32.77M183.88 32.81L186.88 32.81M192.05 32.84L195.05 32.84M199.91 32.88L202.91 32.88M207.78 32.91L210.78 32.91M213.15 32.92L216.15 32.92M222.81 32.94L225.81 32.94M230.48 32.95L233.48 32.95M237.74 32.96L240.74 32.96M243.81 32.98L246.81 32.98M248.97 32.99L251.97 32.99M257.34 33L260.34 33M264.21 33.02L267.21 33.02M271.87 33.03L274.87 33.03M279.94 33.05L282.94 33.05M286.4 33.06L289.4 33.06M294.07 33.07L297.07 33.07M301.53 33.09L304.53 33.09M308.4 33.1L309.4 33.1" stroke="#3a4fb0" stroke-width="1.4"/>
<text x="216.6" y="57.6" font-size="13" text-anchor="start" font-weight="normal" font-style="normal" stroke="#000" stroke-width="0.5"><tspan font-style="italic">z</tspan>=1.58</text>
<path d="M230.9 63.2L235.3 67.6L230.9 72L226.5 67.6Z" fill="none" stroke="#4a62b8" stroke-width="1"/>
<text x="247.6" y="72" font-size="13" text-anchor="start" font-weight="normal" font-style="normal" stroke="#000" stroke-width="0.5">0T</text>
<text x="59.8" y="115.5" font-size="12.8" text-anchor="start" font-weight="normal" font-style="normal" stroke="#000" stroke-width="0.5"><tspan font-style="italic">z</tspan>=0.32</text>
<text x="119" y="115.3" font-size="12.8" text-anchor="start" font-weight="normal" font-style="normal" stroke="#000" stroke-width="0.5"><tspan font-style="italic">z</tspan>=0.99</text>
<circle cx="64.3" cy="126.7" r="3.2" fill="#fff" stroke="#e8161e" stroke-width="1"/>
<circle cx="64.5" cy="141.3" r="3.4" fill="#e8161e" stroke="#e8161e" stroke-width="0.3"/>
<rect x="116.8" y="124.2" width="5" height="5" fill="#fff" stroke="#111" stroke-width="1"/>
<rect x="116.8" y="138.9" width="5" height="5" fill="#111" stroke="#111" stroke-width="0.5"/>
<text x="82" y="131" font-size="13" text-anchor="start" font-weight="normal" font-style="normal" stroke="#000" stroke-width="0.5">0T</text>
<text x="82" y="146" font-size="13" text-anchor="start" font-weight="normal" font-style="normal" stroke="#000" stroke-width="0.5">9T</text>
<text x="135.7" y="131.3" font-size="13" text-anchor="start" font-weight="normal" font-style="normal" stroke="#000" stroke-width="0.5">0T</text>
<text x="135.7" y="146.3" font-size="13" text-anchor="start" font-weight="normal" font-style="normal" stroke="#000" stroke-width="0.5">9T</text>
<text x="54.6" y="19.6" font-size="12" text-anchor="start" font-weight="normal" font-style="normal" stroke="#000" stroke-width="0.5">(a)</text>
<rect x="51.6" y="6.7" width="257.8" height="183.9" fill="none" stroke="#111" stroke-width="1.2"/>
<text x="163.4" y="219" font-size="16.4" text-anchor="start" font-weight="normal" font-style="normal" stroke="#000" stroke-width="0.35"><tspan font-style="italic">T</tspan> (K)</text>
<text transform="translate(18.6,139) rotate(-90)" font-size="16.2" letter-spacing="0.3" font-weight="normal" stroke="#000" stroke-width="0.35"><tspan font-style="italic" stroke-width="0.6">S/T</tspan> (μV/K<tspan font-size="9.5" dy="-7.5">2</tspan><tspan dy="7.5">)</tspan></text>
<path d="M51.5 411.85L51.5 409.85M51.5 227.6L51.5 229.6M77.3 411.85L77.3 408.05M77.3 227.6L77.3 231.4M103.1 411.85L103.1 409.85M103.1 227.6L103.1 229.6M128.9 411.85L128.9 408.05M128.9 227.6L128.9 231.4M154.7 411.85L154.7 409.85M154.7 227.6L154.7 229.6M180.5 411.85L180.5 408.05M180.5 227.6L180.5 231.4M206.3 411.85L206.3 409.85M206.3 227.6L206.3 229.6M232.1 411.85L232.1 408.05M232.1 227.6L232.1 231.4M257.9 411.85L257.9 409.85M257.9 227.6L257.9 229.6M283.7 411.85L283.7 408.05M283.7 227.6L283.7 231.4M309.5 411.85L309.5 409.85M309.5 227.6L309.5 229.6M51.5 411.85L55.7 411.85M51.5 385.53L53.5 385.53M51.5 359.21L55.7 359.21M51.5 332.89L53.5 332.89M51.5 306.56L55.7 306.56M51.5 280.24L53.5 280.24M51.5 253.92L55.7 253.92M51.5 227.6L53.5 227.6M309.5 411.85L305.3 411.85M309.5 390.91L307.5 390.91M309.5 369.98L305.3 369.98M309.5 349.04L307.5 349.04M309.5 328.1L305.3 328.1M309.5 307.16L307.5 307.16M309.5 286.23L305.3 286.23M309.5 265.29L307.5 265.29M309.5 244.35L305.3 244.35" stroke="#222" stroke-width="1" fill="none"/>
<text x="47.9" y="414.75" font-size="13.4" text-anchor="end" font-weight="bold" font-style="normal" fill="#1c1c1c">0.0</text>
<text x="47.9" y="362.11" font-size="13.4" text-anchor="end" font-weight="bold" font-style="normal" fill="#1c1c1c">0.2</text>
<text x="47.9" y="309.46" font-size="13.4" text-anchor="end" font-weight="bold" font-style="normal" fill="#1c1c1c">0.4</text>
<text x="47.9" y="256.82" font-size="13.4" text-anchor="end" font-weight="bold" font-style="normal" fill="#1c1c1c">0.6</text>
<text x="313.6" y="415.25" font-size="13.4" text-anchor="start" font-weight="bold" font-style="normal" fill="#262626">15</text>
<text x="313.6" y="373.38" font-size="13.4" text-anchor="start" font-weight="bold" font-style="normal" fill="#262626">20</text>
<text x="313.6" y="331.5" font-size="13.4" text-anchor="start" font-weight="bold" font-style="normal" fill="#262626">25</text>
<text x="313.6" y="289.62" font-size="13.4" text-anchor="start" font-weight="bold" font-style="normal" fill="#262626">30</text>
<text x="313.6" y="247.75" font-size="13.4" text-anchor="start" font-weight="bold" font-style="normal" fill="#262626">35</text>
<text x="77.6" y="425.4" font-size="13" text-anchor="middle" font-weight="normal" font-style="normal" stroke="#000" stroke-width="0.5">0.0</text>
<text x="129.2" y="425.4" font-size="13" text-anchor="middle" font-weight="normal" font-style="normal" stroke="#000" stroke-width="0.5">0.4</text>
<text x="180.8" y="425.4" font-size="13" text-anchor="middle" font-weight="normal" font-style="normal" stroke="#000" stroke-width="0.5">0.8</text>
<text x="232.4" y="425.4" font-size="13" text-anchor="middle" font-weight="normal" font-style="normal" stroke="#000" stroke-width="0.5">1.2</text>
<text x="284" y="425.4" font-size="13" text-anchor="middle" font-weight="normal" font-style="normal" stroke="#000" stroke-width="0.5">1.6</text>
<text x="56" y="243.2" font-size="12" text-anchor="start" font-weight="normal" font-style="normal" stroke="#000" stroke-width="0.5">(b)</text>
<rect x="193.4" y="227.6" width="103.05" height="73.5" fill="none" stroke="#666" stroke-width="0.9"/>
<path d="M193.4 301.1L193.4 299.6M193.4 227.6L193.4 229.1M206.28 301.1L206.28 298.5M206.28 227.6L206.28 230.2M219.16 301.1L219.16 299.6M219.16 227.6L219.16 229.1M232.04 301.1L232.04 298.5M232.04 227.6L232.04 230.2M244.93 301.1L244.93 299.6M244.93 227.6L244.93 229.1M257.81 301.1L257.81 298.5M257.81 227.6L257.81 230.2M270.69 301.1L270.69 299.6M270.69 227.6L270.69 229.1M283.57 301.1L283.57 298.5M283.57 227.6L283.57 230.2M296.45 301.1L296.45 299.6M296.45 227.6L296.45 229.1M193.4 301.1L194.9 301.1M296.45 301.1L294.95 301.1M193.4 288.85L196 288.85M296.45 288.85L293.85 288.85M193.4 276.6L194.9 276.6M296.45 276.6L294.95 276.6M193.4 264.35L196 264.35M296.45 264.35L293.85 264.35M193.4 252.1L194.9 252.1M296.45 252.1L294.95 252.1M193.4 239.85L196 239.85M296.45 239.85L293.85 239.85M193.4 227.6L194.9 227.6M296.45 227.6L294.95 227.6" stroke="#555" stroke-width="0.8" fill="none"/>
<text x="191.5" y="292.05" font-size="9.5" text-anchor="end" font-weight="bold" font-style="normal" >2</text>
<text x="191.5" y="267.55" font-size="9.5" text-anchor="end" font-weight="bold" font-style="normal" >4</text>
<text x="191.5" y="243.05" font-size="9.5" text-anchor="end" font-weight="bold" font-style="normal" >6</text>
<text x="206.48" y="310.9" font-size="10.2" text-anchor="middle" font-weight="normal" font-style="normal" stroke="#000" stroke-width="0.35">0.0</text>
<text x="232.24" y="310.9" font-size="10.2" text-anchor="middle" font-weight="normal" font-style="normal" stroke="#000" stroke-width="0.35">0.5</text>
<text x="258.01" y="310.9" font-size="10.2" text-anchor="middle" font-weight="normal" font-style="normal" stroke="#000" stroke-width="0.35">1.0</text>
<text x="283.77" y="310.9" font-size="10.2" text-anchor="middle" font-weight="normal" font-style="normal" stroke="#000" stroke-width="0.35">1.5</text>
<path d="M206.28 239.85L222.77 270.48L257.29 279.05L259.87 294.36L287.69 282.48" fill="none" stroke="#444" stroke-width="0.8"/>
<path d="M206.28 234.3L206.28 245.5M204.78 234.3L207.78 234.3M204.78 245.5L207.78 245.5" stroke="#444" stroke-width="0.8"/>
<rect x="203.88" y="237.45" width="4.8" height="4.8" fill="#fff" stroke="#444" stroke-width="0.8"/>
<rect x="220.37" y="268.08" width="4.8" height="4.8" fill="#fff" stroke="#444" stroke-width="0.8"/>
<rect x="254.89" y="276.65" width="4.8" height="4.8" fill="#fff" stroke="#444" stroke-width="0.8"/>
<rect x="257.47" y="291.96" width="4.8" height="4.8" fill="#fff" stroke="#444" stroke-width="0.8"/>
<rect x="285.29" y="280.08" width="4.8" height="4.8" fill="#fff" stroke="#444" stroke-width="0.8"/>
<text x="211.5" y="320.8" font-size="10.2" text-anchor="start" font-weight="bold" font-style="normal" ><tspan font-style="italic">z</tspan> in K<tspan font-size="6.5" dy="4">x</tspan><tspan dy="-4">Fe</tspan><tspan font-size="6.5" dy="4">2-y</tspan><tspan dy="-4">Se</tspan><tspan font-size="6.5" dy="4">2-z</tspan><tspan dy="-4">S</tspan><tspan font-size="6.5" dy="4">z</tspan></text>
<text transform="translate(179.2,294.5) rotate(-90)" font-size="10.1" font-weight="bold"><tspan font-style="italic">γ</tspan><tspan font-size="6.5" dy="3">n</tspan><tspan dy="-3">(mJ/mol K</tspan><tspan font-size="6.5" dy="-4.5">2</tspan><tspan dy="4.5">)</tspan></text>
<path d="M77.3 261L118.6 261L204.4 331.9L211.6 384.4" fill="none" stroke="#111" stroke-width="1.1"/>
<path d="M76.9 285.6L118.6 311.5L204.9 383.1L211.6 393.2L281.1 403.7" fill="none" stroke="#e8161e" stroke-width="1.1"/>
<rect x="74.6" y="258.1" width="5.8" height="5.8" fill="#fff" stroke="#111" stroke-width="1.3"/>
<rect x="115.7" y="258.1" width="5.8" height="5.8" fill="#fff" stroke="#111" stroke-width="1.3"/>
<rect x="201.5" y="329" width="5.8" height="5.8" fill="#fff" stroke="#111" stroke-width="1.3"/>
<rect x="208.7" y="381.7" width="5.8" height="5.8" fill="#fff" stroke="#111" stroke-width="1.3"/>
<rect x="74.25" y="282.45" width="6.3" height="6.3" fill="#fff" stroke="#e8161e" stroke-width="1.1"/>
<path d="M74.8 284.5L80 284.5M74.8 286.7L80 286.7M77.4 282.6L77.4 288.6" stroke="#e8161e" stroke-width="0.8"/>
<rect x="115.25" y="308.55" width="6.3" height="6.3" fill="#fff" stroke="#e8161e" stroke-width="1.1"/>
<rect x="201.45" y="379.75" width="6.3" height="6.3" fill="#fff" stroke="#e8161e" stroke-width="1.1"/>
<path d="M201.6 382.9L207.6 382.9M204.6 379.9L204.6 385.9" stroke="#e8161e" stroke-width="0.8"/>
<rect x="208.45" y="390.15" width="6.3" height="6.3" fill="#fff" stroke="#e8161e" stroke-width="1.1"/>
<path d="M209 392.2L214.2 392.2M209 394.4L214.2 394.4M211.6 390.3L211.6 396.3" stroke="#e8161e" stroke-width="0.8"/>
<rect x="277.85" y="400.65" width="6.3" height="6.3" fill="#fff" stroke="#e8161e" stroke-width="1.1"/>
<path d="M278 403.8L284 403.8M281 400.8L281 406.8" stroke="#e8161e" stroke-width="0.8"/>
<ellipse cx="106.1" cy="305.2" rx="5.1" ry="11.4" fill="none" stroke="#e8161e" stroke-width="1.1"/>
<line x1="101" y1="309.6" x2="79" y2="309.6" stroke="#e8161e" stroke-width="1.1"/>
<path d="M73.8 309.6L80.5 306.8L79.2 309.6L80.5 312.4Z" fill="#e8161e"/>
<ellipse cx="203.4" cy="336.5" rx="6.8" ry="16.8" fill="none" stroke="#111" stroke-width="1.1"/>
<line x1="210.3" y1="334.9" x2="243" y2="334.9" stroke="#111" stroke-width="1.1"/>
<path d="M248.5 334.9L241.5 332.1L242.8 334.9L241.5 337.7Z" fill="#111"/>
<rect x="51.5" y="227.6" width="258" height="184.25" fill="none" stroke="#111" stroke-width="1.2"/>
<text transform="translate(21.3,370) rotate(-90)" font-size="16.2" letter-spacing="0.3" font-weight="normal" stroke="#000" stroke-width="0.35"><tspan font-style="italic" stroke-width="0.6">S/T</tspan> (μV/K<tspan font-size="9.5" dy="-7.5">2</tspan><tspan dy="7.5">)</tspan></text>
<text transform="translate(345.2,346.3) rotate(-90)" font-size="16.8" font-weight="normal" stroke="#000" stroke-width="0.35"><tspan font-style="italic">T</tspan><tspan font-size="9.5" dy="6.5">c</tspan><tspan dy="-6.5"> (K)</tspan></text>
<text x="122.5" y="449.5" font-size="16.4" text-anchor="start" font-weight="normal" font-style="normal" stroke="#000" stroke-width="0.6"><tspan font-style="italic">z</tspan> in K<tspan font-size="9.5" dy="6.3">x</tspan><tspan dy="-6.3">Fe</tspan><tspan font-size="9.5" dy="6.3">2-y</tspan><tspan dy="-6.3">Se</tspan><tspan font-size="9.5" dy="6.3">2-z</tspan><tspan dy="-6.3">S</tspan><tspan font-size="9.5" dy="6.3">z</tspan></text></svg>
</body></html>
